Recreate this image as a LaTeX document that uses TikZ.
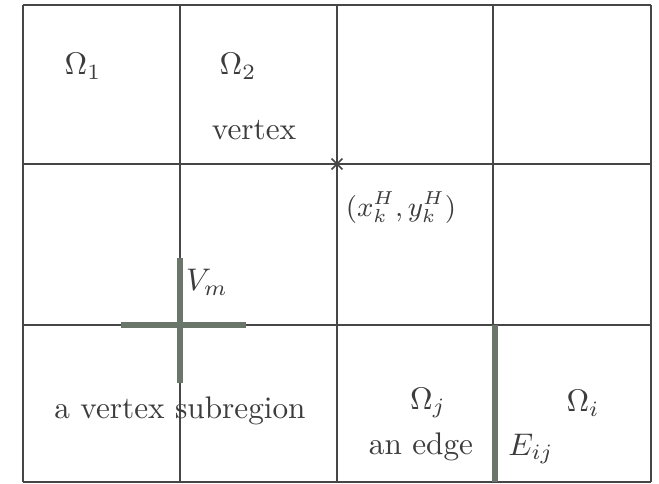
\documentclass[tikz,border=0pt]{standalone}
\usepackage{amsmath}
\usepackage{tikz}
\usetikzlibrary{shapes.misc}

\definecolor{gridgray}{RGB}{70,70,70}
\definecolor{thickgray}{RGB}{105,118,105}
\definecolor{txtgray}{RGB}{60,60,60}

\begin{document}
\begin{tikzpicture}[
    x=0.32pt, y=-0.32pt,
    font=\normalsize,
    grid/.style={draw=gridgray, line width=0.55pt},
    thick part/.style={draw=thickgray, line width=1.7pt},
    lbl/.style={inner sep=0pt, text=txtgray},
    crossmark/.style={draw=gridgray, cross out, minimum size=3pt, inner sep=0pt, line width=0.5pt},
  ]
  \useasboundingbox (0,0) rectangle (659,483);

  % subdomain grid
  \foreach \xx in {23,180,337,493,651}
    \draw[grid] (\xx,5) -- (\xx,482);
  \foreach \yy in {5,164,325,482}
    \draw[grid] (23,\yy) -- (651,\yy);

  % vertex subregion and edge
  \draw[thick part] (180,258) -- (180,383);
  \draw[thick part] (121,325) -- (246,325);
  \draw[thick part] (495,325) -- (495,482);

  % coarse vertex
  \node[crossmark] (xk) at (337,164) {};

  % labels
  \node[lbl] (om1) at (83,66) {$\Omega_1$};
  \node[lbl] (om2) at (238,66) {$\Omega_2$};
  \node[lbl] (vtx) at (254,130) {vertex};
  \node[lbl, font=\small] (xy) at (401,208) {$(x_k^H{,}\,y_k^H)$};
  \node[lbl] (vm) at (207,282) {$V_m$};
  \node[lbl] (sub) at (180,411) {a vertex subregion};
  \node[lbl] (omj) at (428,403) {$\Omega_j$};
  \node[lbl] (edge) at (421,447) {an edge};
  \node[lbl] (omi) at (583,403) {$\Omega_i$};
  \node[lbl] (eij) at (531,449) {$E_{ij}$};
\end{tikzpicture}
\end{document}
